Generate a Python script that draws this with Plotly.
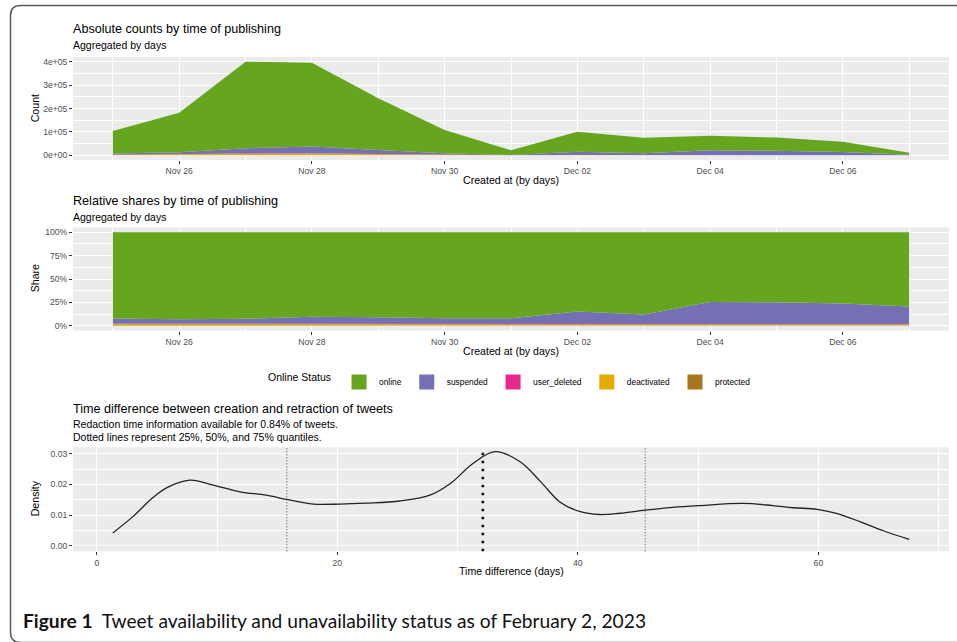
import plotly.graph_objects as go

# ---- data -------------------------------------------------------------
days = ["2022-11-25", "2022-11-26", "2022-11-27", "2022-11-28", "2022-11-29",
        "2022-11-30", "2022-12-01", "2022-12-02", "2022-12-03", "2022-12-04",
        "2022-12-05", "2022-12-06", "2022-12-07"]

online = [95900, 169250, 370900, 358000, 221600, 99200, 20200,
          85600, 65850, 62630, 56850, 44180, 8730]
suspended = [5700, 8600, 20900, 28900, 16800, 6400, 1360,
             13900, 8000, 20200, 18000, 13000, 2100]
user_deleted = [200, 350, 800, 800, 500, 200, 40,
                200, 150, 170, 150, 120, 20]
deactivated = [1700, 2900, 6400, 6300, 3900, 1700, 300,
               900, 700, 700, 700, 500, 100]
protected = [500, 900, 2000, 2000, 1200, 500, 100,
             400, 300, 300, 300, 200, 50]

delay_days = [1.33, 3.0, 4.6, 5.8, 7.74, 9.68, 11.9, 14.1, 15.8, 18.0,
              20.2, 22.4, 25.2, 27.7, 29.4, 31.3, 33.1, 35.2, 36.9, 38.5,
              40.2, 41.8, 43.5, 45.6, 47.9, 50.2, 53.7, 56.2, 57.9, 59.9,
              61.5, 63.5, 65.4, 67.55]
delay_density = [0.0042, 0.0095, 0.0155, 0.0189, 0.0214, 0.0198, 0.0176,
                 0.0165, 0.0151, 0.0136, 0.0136, 0.0139, 0.0146, 0.0165,
                 0.0203, 0.0269, 0.0307, 0.0274, 0.0209, 0.0143, 0.0111,
                 0.0102, 0.0106, 0.0116, 0.0125, 0.0131, 0.0138, 0.0131,
                 0.0124, 0.0119, 0.0106, 0.0078, 0.0049, 0.0021]
delay_quantiles = [15.8, 32.1, 45.6]

# stacking order: bottom layer first
statuses = [
    ("protected", protected, "#A6761D"),
    ("deactivated", deactivated, "#E6AB02"),
    ("user_deleted", user_deleted, "#E7298A"),
    ("suspended", suspended, "#7570B3"),
    ("online", online, "#66A61E"),
]

W, H = 957, 642
FONT = "Liberation Sans, Arial, sans-serif"
PANEL_BG = "#EBEBEB"


def fx(px):
    return px / W


def fy(py):
    return 1 - py / H


fig = go.Figure()

for name, values, color in statuses:
    fig.add_trace(go.Scatter(
        x=days, y=values, name=name, stackgroup="abs", mode="lines",
        line=dict(width=0, color=color), fillcolor=color,
        showlegend=False, xaxis="x", yaxis="y", hoverinfo="skip"))
    fig.add_trace(go.Scatter(
        x=days, y=values, name=name, stackgroup="rel", groupnorm="fraction",
        mode="lines", line=dict(width=0, color=color), fillcolor=color,
        showlegend=False, xaxis="x2", yaxis="y2", hoverinfo="skip"))

# legend entries (listed online first)
for name, values, color in reversed(statuses):
    fig.add_trace(go.Scatter(
        x=[None], y=[None], name=name, mode="markers",
        marker=dict(symbol="square", size=15, color=color),
        xaxis="x", yaxis="y", showlegend=True))

fig.add_trace(go.Scatter(
    x=delay_days, y=delay_density, mode="lines", line_shape="spline",
    line=dict(color="#222222", width=1.3), showlegend=False,
    xaxis="x3", yaxis="y3", hoverinfo="skip"))

# quantile markers
for i, q in enumerate(delay_quantiles):
    thick = (i == 1)
    fig.add_shape(type="line", xref="x3", yref="y3 domain",
                  x0=q, x1=q, y0=0, y1=1,
                  line=dict(color="#111111" if thick else "#444444",
                            width=2.6 if thick else 1,
                            dash="2.6px,5.4px" if thick else "1px,2px"))

x_dom = [fx(73), fx(949)]
tick_font = dict(family=FONT, size=8.6, color="#4D4D4D")
grid = dict(showgrid=True, gridcolor="white", gridwidth=1.1,
            zeroline=False, ticks="outside", ticklen=3, tickwidth=1,
            tickcolor="#333333", tickfont=tick_font, showline=False)
minor = dict(showgrid=True, gridcolor="white", gridwidth=0.5, ticks="")

date_axis = dict(type="date", range=["2022-11-24 09:36", "2022-12-07 14:24"],
                 tickformat="%b %d", tick0="2022-11-26", dtick=2 * 86400000,
                 minor=dict(dtick=86400000, **minor), domain=x_dom, **grid)

fig.update_layout(
    width=W, height=H, margin=dict(l=0, r=0, t=0, b=0),
    paper_bgcolor="white", plot_bgcolor=PANEL_BG,
    font=dict(family=FONT, color="black"),
    xaxis=dict(anchor="y", **date_axis),
    yaxis=dict(domain=[fy(160), fy(57)], anchor="x",
               range=[-20050, 421050], tickmode="array",
               tickvals=[0, 100000, 200000, 300000, 400000],
               ticktext=["0e+00", "1e+05", "2e+05", "3e+05", "4e+05"],
               minor=dict(tickvals=[50000, 150000, 250000, 350000], **minor),
               **grid),
    xaxis2=dict(anchor="y2", **date_axis),
    yaxis2=dict(domain=[fy(330.5), fy(227.5)], anchor="x2",
                range=[-0.05, 1.05], tickmode="array",
                tickvals=[0, 0.25, 0.5, 0.75, 1.0], tickformat=".0%",
                minor=dict(tickvals=[0.125, 0.375, 0.625, 0.875], **minor),
                **grid),
    xaxis3=dict(anchor="y3", domain=x_dom, range=[-1.98, 70.86],
                tickmode="array", tickvals=[0, 20, 40, 60],
                minor=dict(tickvals=[10, 30, 50, 70], **minor), **grid),
    yaxis3=dict(domain=[fy(551.3), fy(447.3)], anchor="x3",
                range=[-0.0018, 0.0321], tickmode="array",
                tickvals=[0, 0.01, 0.02, 0.03], tickformat=".2f",
                minor=dict(tickvals=[0.005, 0.015, 0.025], **minor),
                **grid),
    legend=dict(orientation="h", x=fx(511), y=fy(382), xanchor="center",
                yanchor="middle", bgcolor="rgba(0,0,0,0)",
                traceorder="normal",
                title=dict(text="Online Status", side="left",
                           font=dict(family=FONT, size=10.5, color="black")),
                font=dict(family=FONT, size=8.4, color="black"),
                itemclick=False, itemdoubleclick=False, tracegroupgap=0),
)


def text(s, x, y, size, xanchor="left", angle=0, color="black", family=FONT):
    fig.add_annotation(text=s, xref="paper", yref="paper", x=fx(x), y=fy(y),
                       xanchor=xanchor, yanchor="middle", showarrow=False,
                       textangle=angle, align="left",
                       font=dict(family=family, size=size, color=color))


# panel titles
text("Absolute counts by time of publishing", 71, 29.3, 12.6)
text("Aggregated by days", 71, 45.3, 10.5)
text("Relative shares by time of publishing", 71, 200.5, 12.6)
text("Aggregated by days", 71, 216.5, 10.5)
text("Time difference between creation and retraction of tweets", 71, 409, 12.6)
text("Redaction time information available for 0.84% of tweets.", 71, 424.3, 10.5)
text("Dotted lines represent 25%, 50%, and 75% quantiles.", 71, 436.7, 10.5)

# axis titles
text("Count", 35, 108.3, 10.6, xanchor="center", angle=-90)
text("Share", 35, 278.3, 10.6, xanchor="center", angle=-90)
text("Density", 35, 498.3, 10.6, xanchor="center", angle=-90)
text("Created at (by days)", 511, 179.5, 10.6, xanchor="center")
text("Created at (by days)", 511, 350.7, 10.6, xanchor="center")
text("Time difference (days)", 511, 571, 10.6, xanchor="center")

# figure caption
text("<b>Figure 1</b>  Tweet availability and unavailability status as of February 2, 2023",
     20.5, 620, 19.2, family="Lato, sans-serif", color="#111111")

# rounded frame around the figure
frame = "M {r},{t} L {l2},{t} Q {l},{t} {l},{t2} L {l},{b2} Q {l},{b} {l2},{b} L {r},{b}".format(
    l=fx(10.5), l2=fx(20.5), r=fx(975), t=fy(5.5), t2=fy(15.5), b=fy(642.5), b2=fy(632.5))
fig.add_shape(type="path", xref="paper", yref="paper", path=frame,
              line=dict(color="#5A5A5A", width=1.5), layer="above")

fig.write_html("out.html")
